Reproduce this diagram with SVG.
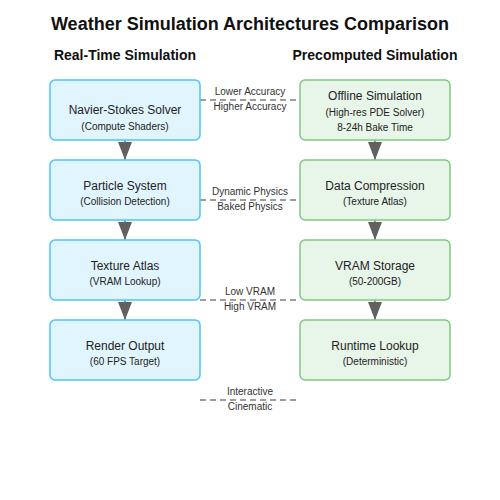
<svg xmlns="http://www.w3.org/2000/svg" width="500" height="500" viewBox="0 0 500 500">
<defs>
<marker id="ah" viewBox="0 0 18 14" refX="18" refY="7" markerWidth="18" markerHeight="14" markerUnits="userSpaceOnUse" orient="auto">
<path d="M0,0 L18,7 L0,14 z" fill="#616161"/>
</marker>
<style>
text{font-family:"Liberation Sans",Arial,sans-serif;fill:#222;text-anchor:middle}
.title{font-size:18px;font-weight:bold;fill:#111}
.hdr{font-size:14px;font-weight:bold;fill:#111}
.t{font-size:12px}
.s{font-size:10px}
.lbl{font-size:10px;fill:#333}
.rt{fill:#e1f5fe;stroke:#4fc3f7;stroke-width:1.5}
.pc{fill:#e8f5e9;stroke:#81c784;stroke-width:1.5}
.cl{stroke:#29b6f6;stroke-width:2;fill:none}
.cr{stroke:#66bb6a;stroke-width:2;fill:none}
.dash{stroke:#9e9e9e;stroke-width:2;stroke-dasharray:6,4;fill:none}
</style>
</defs>
<rect width="500" height="500" fill="#ffffff"/>
<text class="title" x="250" y="30">Weather Simulation Architectures Comparison</text>
<text class="hdr" x="125" y="60">Real-Time Simulation</text>
<text class="hdr" x="375" y="60">Precomputed Simulation</text>

<g id="connectors">
<line class="cl" x1="125" y1="140" x2="125" y2="160" marker-end="url(#ah)"/>
<line class="cl" x1="125" y1="220" x2="125" y2="240" marker-end="url(#ah)"/>
<line class="cl" x1="125" y1="300" x2="125" y2="320" marker-end="url(#ah)"/>
<line class="cr" x1="375" y1="140" x2="375" y2="160" marker-end="url(#ah)"/>
<line class="cr" x1="375" y1="220" x2="375" y2="240" marker-end="url(#ah)"/>
<line class="cr" x1="375" y1="300" x2="375" y2="320" marker-end="url(#ah)"/>
<line class="dash" x1="200" y1="100" x2="300" y2="100"/>
<line class="dash" x1="200" y1="200" x2="300" y2="200"/>
<line class="dash" x1="200" y1="300" x2="300" y2="300"/>
<line class="dash" x1="200" y1="400" x2="300" y2="400"/>
<text class="lbl" x="250" y="95">Lower Accuracy</text>
<text class="lbl" x="250" y="110">Higher Accuracy</text>
<text class="lbl" x="250" y="195">Dynamic Physics</text>
<text class="lbl" x="250" y="210">Baked Physics</text>
<text class="lbl" x="250" y="295">Low VRAM</text>
<text class="lbl" x="250" y="310">High VRAM</text>
<text class="lbl" x="250" y="395">Interactive</text>
<text class="lbl" x="250" y="410">Cinematic</text>
</g>

<g id="navier">
<rect class="rt" x="50" y="80" width="150" height="60" rx="5"/>
<text class="t" x="125" y="114">Navier-Stokes Solver</text>
<text class="s" x="125" y="130">(Compute Shaders)</text>
</g>
<g id="particle">
<rect class="rt" x="50" y="160" width="150" height="60" rx="5"/>
<text class="t" x="125" y="190">Particle System</text>
<text class="s" x="125" y="205">(Collision Detection)</text>
</g>
<g id="texture">
<rect class="rt" x="50" y="240" width="150" height="60" rx="5"/>
<text class="t" x="125" y="270">Texture Atlas</text>
<text class="s" x="125" y="285">(VRAM Lookup)</text>
</g>
<g id="render">
<rect class="rt" x="50" y="320" width="150" height="60" rx="5"/>
<text class="t" x="125" y="350">Render Output</text>
<text class="s" x="125" y="365">(60 FPS Target)</text>
</g>

<g id="offline">
<rect class="pc" x="300" y="80" width="150" height="60" rx="5"/>
<text class="t" x="375" y="100">Offline Simulation</text>
<text class="s" x="375" y="116">(High-res PDE Solver)</text>
<text class="s" x="375" y="131">8-24h Bake Time</text>
</g>
<g id="compression">
<rect class="pc" x="300" y="160" width="150" height="60" rx="5"/>
<text class="t" x="375" y="190">Data Compression</text>
<text class="s" x="375" y="205">(Texture Atlas)</text>
</g>
<g id="vram">
<rect class="pc" x="300" y="240" width="150" height="60" rx="5"/>
<text class="t" x="375" y="270">VRAM Storage</text>
<text class="s" x="375" y="285">(50-200GB)</text>
</g>
<g id="runtime">
<rect class="pc" x="300" y="320" width="150" height="60" rx="5"/>
<text class="t" x="375" y="350">Runtime Lookup</text>
<text class="s" x="375" y="365">(Deterministic)</text>
</g>
</svg>
